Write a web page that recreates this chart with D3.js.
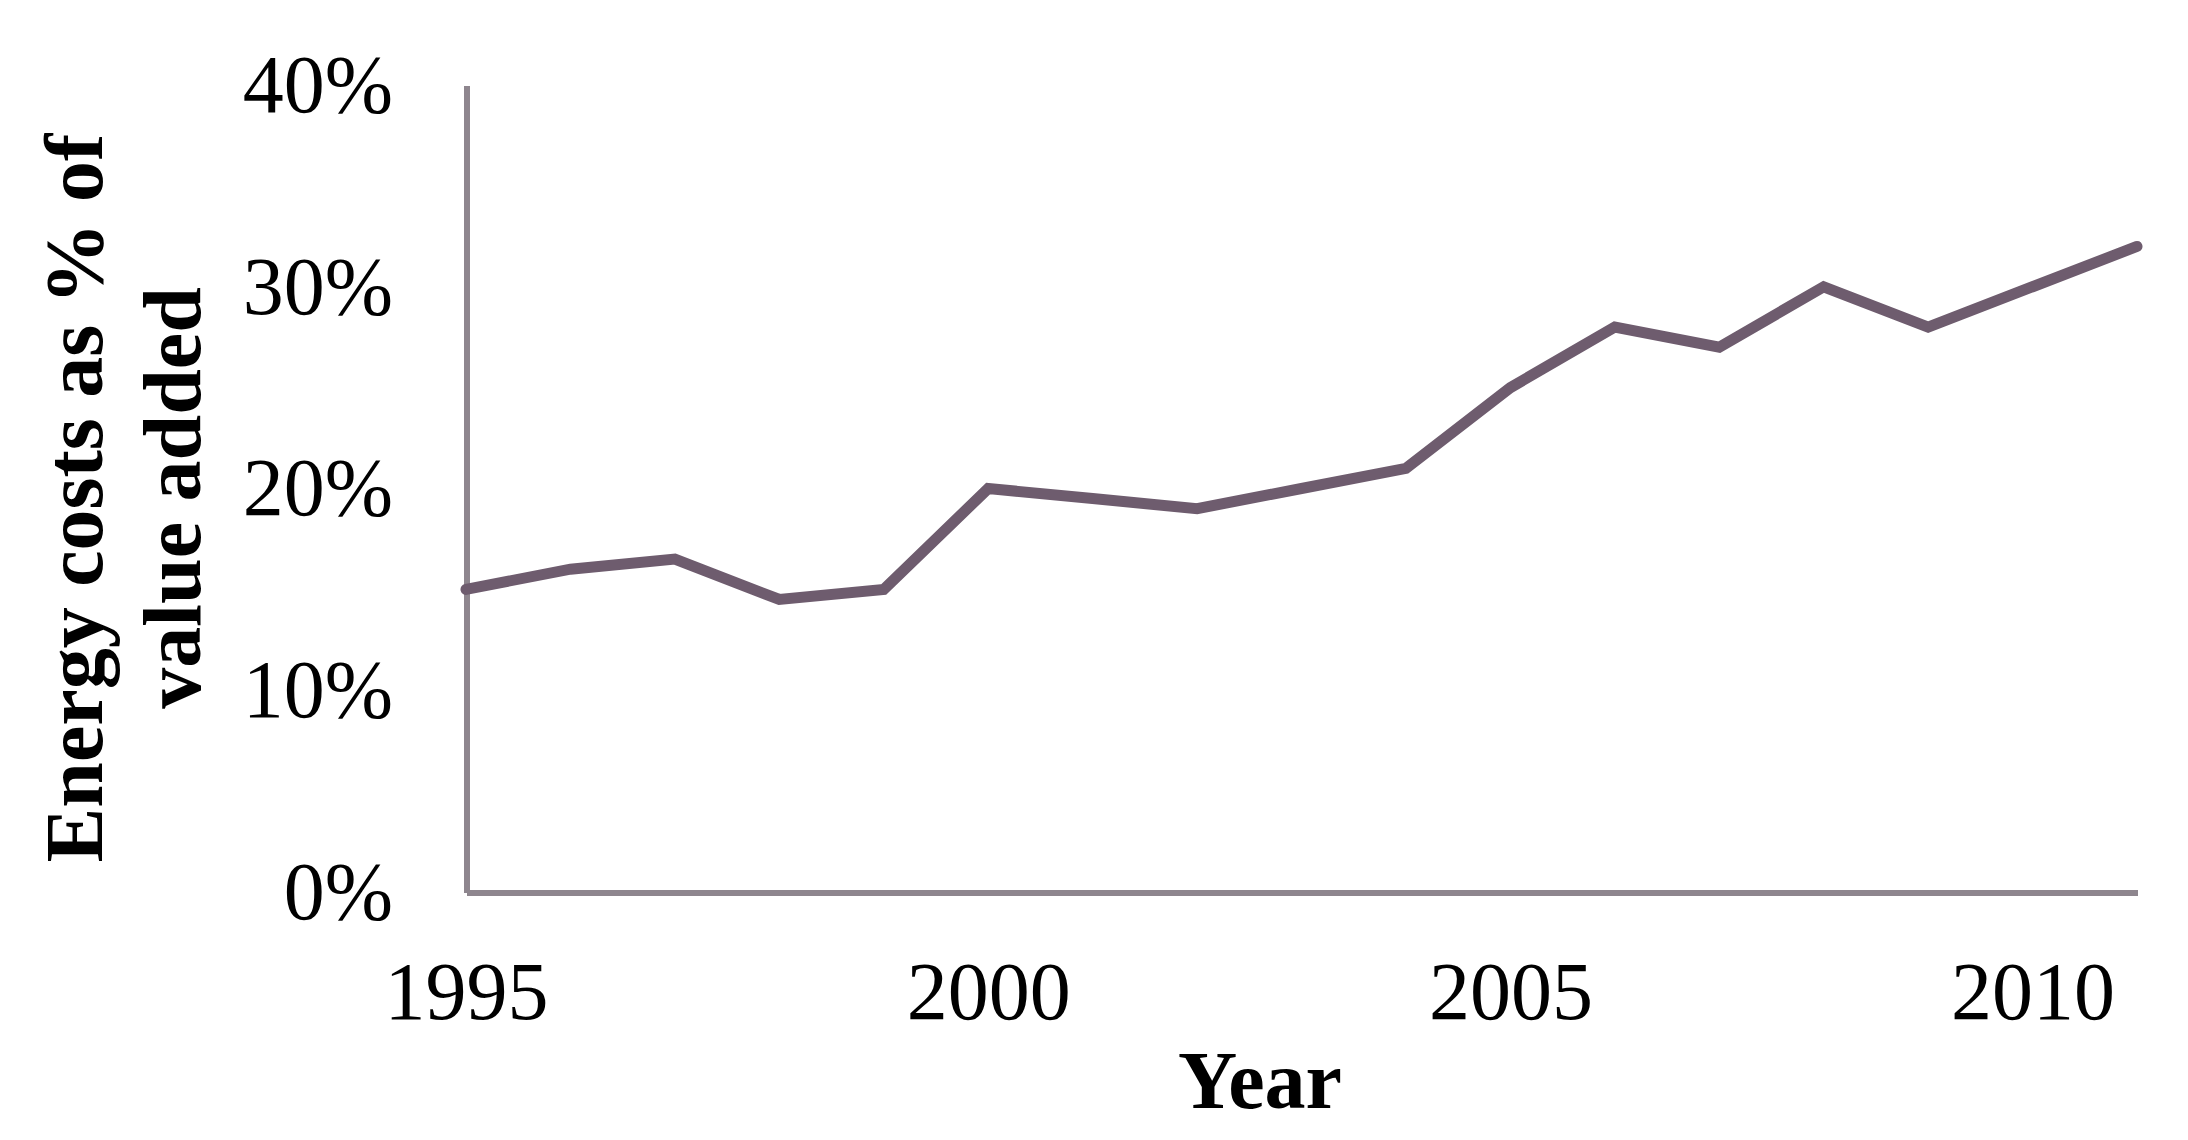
<!DOCTYPE html>
<html>
<head>
<meta charset="utf-8">
<script src="https://cdn.jsdelivr.net/npm/d3@7"></script>
<style>
  html, body { margin: 0; padding: 0; background: #ffffff; }
  svg { display: block; }
</style>
</head>
<body>
<svg id="chart" width="2188" height="1140"></svg>
<script>
// Data
const years = [1995, 1996, 1997, 1998, 1999, 2000, 2001, 2002, 2003, 2004, 2005, 2006, 2007, 2008, 2009, 2010, 2011];
const energyShare = [0.150, 0.160, 0.165, 0.145, 0.150, 0.200, 0.195, 0.190, 0.200, 0.210, 0.250, 0.280, 0.270, 0.300, 0.280, 0.300, 0.320];
const yTicks = [0, 0.1, 0.2, 0.3, 0.4];
const xTicks = [1995, 2000, 2005, 2010];
const yTitleLines = ["Energy costs as % of", "value added"];
const xTitle = "Year";

const FONT = "'Liberation Serif', 'Times New Roman', Times, serif";
const LINE_COLOR = "#6e5c6e";
const AXIS_COLOR = "#8e868e";

const svg = d3.select("#chart");

const x = d3.scaleLinear().domain([1995, 2011]).range([466, 2137]);
const y = d3.scaleLinear().domain([0, 0.4]).range([892, 85]);

// Y axis
const yAxis = d3.axisLeft(y)
  .tickValues(yTicks)
  .tickFormat(d3.format(".0%"))
  .tickSize(0)
  .tickPadding(73);

const gy = svg.append("g")
  .attr("transform", `translate(${x(1995)},0)`)
  .call(yAxis);
gy.select(".domain").attr("stroke", AXIS_COLOR).attr("stroke-width", 6);
gy.selectAll("text")
  .attr("font-family", FONT)
  .attr("font-size", 82)
  .attr("fill", "#000");

// X axis
const xAxis = d3.axisBottom(x)
  .tickValues(xTicks)
  .tickFormat(d3.format("d"))
  .tickSize(0)
  .tickPadding(69);

const gx = svg.append("g")
  .attr("transform", `translate(0,${y(0)})`)
  .call(xAxis);
gx.select(".domain").attr("stroke", AXIS_COLOR).attr("stroke-width", 6);
gx.selectAll("text")
  .attr("font-family", FONT)
  .attr("font-size", 82)
  .attr("fill", "#000");
svg.selectAll(".domain").attr("shape-rendering", "crispEdges");

// Line
const data = years.map((yr, i) => ({ year: yr, value: energyShare[i] }));
const line = d3.line().x(d => x(d.year)).y(d => y(d.value));

svg.append("path")
  .datum(data)
  .attr("d", line)
  .attr("fill", "none")
  .attr("stroke", LINE_COLOR)
  .attr("stroke-width", 11)
  .attr("stroke-linejoin", "miter")
  .attr("stroke-linecap", "round");

// Y axis title (two lines, rotated)
const yTitleX = [102, 200];
yTitleLines.forEach((t, i) => {
  svg.append("text")
    .attr("transform", `translate(${yTitleX[i]},498) rotate(-90)`)
    .attr("text-anchor", "middle")
    .attr("font-family", FONT)
    .attr("font-weight", "bold")
    .attr("font-size", 82)
    .attr("fill", "#000")
    .text(t);
});

// X axis title
svg.append("text")
  .attr("x", 1260)
  .attr("y", 1108)
  .attr("text-anchor", "middle")
  .attr("font-family", FONT)
  .attr("font-weight", "bold")
  .attr("font-size", 82)
  .attr("fill", "#000")
  .text(xTitle);
</script>
</body>
</html>
